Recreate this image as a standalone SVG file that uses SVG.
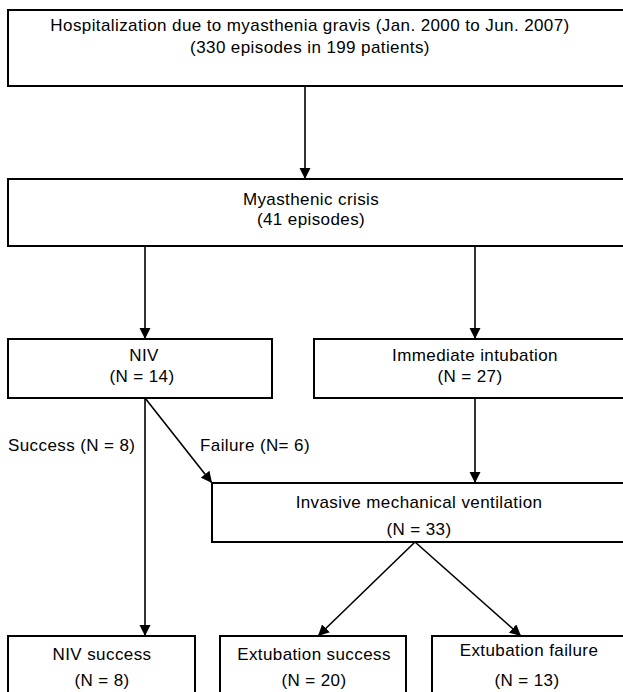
<svg xmlns="http://www.w3.org/2000/svg" width="623" height="692" viewBox="0 0 623 692">
<style>
.box{fill:#fff;stroke:#000;stroke-width:2}
.t{font-family:"Liberation Sans",Arial,sans-serif;font-size:17px;letter-spacing:0.4px;fill:#000;text-anchor:middle}
.l{font-family:"Liberation Sans",Arial,sans-serif;font-size:17px;letter-spacing:0.4px;fill:#000}
.c{stroke:#000;stroke-width:1.6;fill:none;marker-end:url(#ah)}
</style>
<defs>
<marker id="ah" viewBox="0 0 10 10" refX="10" refY="5" markerWidth="7" markerHeight="7" markerUnits="strokeWidth" orient="auto">
<path d="M0,0 L10,5 L0,10 z" fill="#000"/>
</marker>
</defs>
<rect width="623" height="692" fill="#fff"/>
<g id="connectors">
<line class="c" x1="305" y1="86" x2="305" y2="179"/>
<line class="c" x1="145" y1="246" x2="145" y2="339"/>
<line class="c" x1="475" y1="246" x2="475" y2="339"/>
<line class="c" x1="145" y1="398" x2="212" y2="483"/>
<line class="c" x1="475" y1="398" x2="475" y2="483"/>
<line class="c" x1="145" y1="398" x2="145" y2="636"/>
<line class="c" x1="415" y1="542" x2="318" y2="636"/>
<line class="c" x1="415" y1="542" x2="521" y2="636"/>
</g>
<g id="n-hosp">
<rect class="box" x="8" y="10" width="640" height="76"/>
<text class="t" x="310" y="31">Hospitalization due to myasthenia gravis (Jan. 2000 to Jun. 2007)</text>
<text class="t" x="310" y="53">(330 episodes in 199 patients)</text>
</g>
<g id="n-crisis">
<rect class="box" x="8" y="179" width="640" height="67"/>
<text class="t" x="311" y="205">Myasthenic crisis</text>
<text class="t" x="311" y="225">(41 episodes)</text>
</g>
<g id="n-niv">
<rect class="box" x="8" y="339" width="264" height="59"/>
<text class="t" x="144" y="361">NIV</text>
<text class="t" x="142" y="382">(N = 14)</text>
</g>
<g id="n-intub">
<rect class="box" x="314" y="339" width="330" height="59"/>
<text class="t" x="475" y="361">Immediate intubation</text>
<text class="t" x="470" y="382">(N = 27)</text>
</g>
<g id="lbl">
<text class="l" x="8" y="451">Success (N = 8)</text>
<text class="l" x="200" y="451">Failure (N= 6)</text>
</g>
<g id="n-imv">
<rect class="box" x="212" y="483" width="430" height="59"/>
<text class="t" x="419" y="508">Invasive mechanical ventilation</text>
<text class="t" x="419" y="535">(N = 33)</text>
</g>
<g id="n-nivs">
<rect class="box" x="8" y="636" width="187" height="70"/>
<text class="t" x="102" y="660">NIV success</text>
<text class="t" x="102" y="686">(N = 8)</text>
</g>
<g id="n-exs">
<rect class="box" x="220" y="636" width="186" height="70"/>
<text class="t" x="314" y="660">Extubation success</text>
<text class="t" x="314" y="686">(N = 20)</text>
</g>
<g id="n-exf">
<rect class="box" x="432" y="636" width="200" height="70"/>
<text class="t" x="529" y="656">Extubation failure</text>
<text class="t" x="527" y="686">(N = 13)</text>
</g>
</svg>
